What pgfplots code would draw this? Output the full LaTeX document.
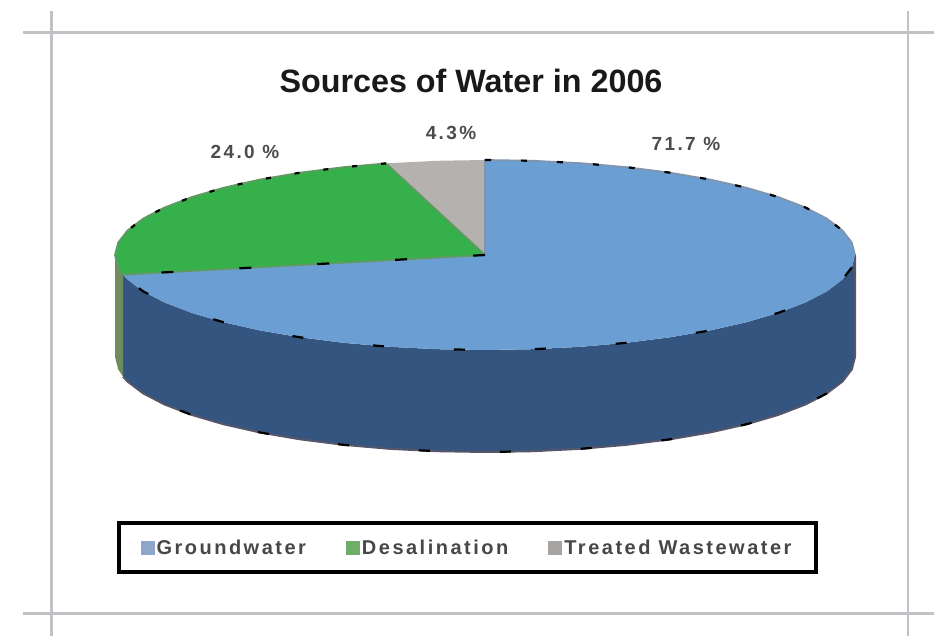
\documentclass[border=0pt]{standalone}
\usepackage{pgfplots}
\pgfplotsset{compat=1.18}
\usepackage{fontspec}
\setmainfont{Liberation Sans}
\newfontfamily\legendfont[LetterSpace=12.5]{Liberation Sans Bold}
\definecolor{slicetop}{HTML}{6B9FD4}
\definecolor{slicewall}{HTML}{34557F}
\definecolor{greentop}{HTML}{35B04A}
\definecolor{greenwall}{HTML}{6F8C5E}
\definecolor{graytop}{HTML}{B4B1AF}
\definecolor{cropmark}{HTML}{C2C2C6}
\definecolor{rimblue}{HTML}{8094AE}
\definecolor{rimgreen}{HTML}{5F9A62}
\definecolor{rimwall}{HTML}{55566A}
\definecolor{swatchblue}{HTML}{8EA6C9}
\definecolor{swatchgreen}{HTML}{6FAE6A}
\definecolor{swatchgray}{HTML}{A8A4A2}
\begin{document}
\begin{tikzpicture}
\begin{axis}[
  scale only axis, width=934pt, height=636pt,
  xmin=0, xmax=934, ymin=0, ymax=636, y dir=reverse,
  hide axis, clip=true,
  legend columns=3,
  legend cell align=left,
  legend style={at={(axis cs:467,547.5)}, anchor=center, draw=black, line width=4pt,
    fill=white, inner xsep=22pt, inner ysep=15pt,
    font=\fontsize{20}{22}\legendfont\color{black!72},
    /tikz/every even column/.append style={column sep=38pt}},
  legend image code/.code={\fill[#1, draw=none] (0pt,-7pt) rectangle (14pt,7pt);},
]
% crop marks around the page
\addplot[forget plot, cropmark, line width=2.6pt] coordinates {(23,32.5) (934,32.5)};
\addplot[forget plot, cropmark, line width=2.6pt] coordinates {(23,613.5) (934,613.5)};
\addplot[forget plot, cropmark, line width=2.6pt] coordinates {(51.5,11) (51.5,636)};
\addplot[forget plot, cropmark, line width=2.6pt] coordinates {(908,11) (908,636)};

% side wall of the disc
\addplot[forget plot, fill=slicewall, draw=none] coordinates {
 (855,255) (851.8,267.4) (842.4,279.6) (826.8,291.4) (805.4,302.5) (778.6,312.8) (746.6,322.2) (710.3,330.4) (670,337.3) (626.6,342.8) (580.8,346.8) (533.3,349.2) (485,350)
 (436.7,349.2) (389.2,346.8) (343.4,342.8) (300,337.3) (259.7,330.4) (223.4,322.2) (191.4,312.8) (164.6,302.5) (143.2,291.4) (127.6,279.6) (123,274.6)
 (123,376.6) (127.6,381.6) (143.2,393.4) (164.6,404.5) (191.4,414.8) (223.4,424.2) (259.7,432.4) (300,439.3) (343.4,444.8) (389.2,448.8) (436.7,451.2) (485,452)
 (533.3,451.2) (580.8,448.8) (626.6,444.8) (670,439.3) (710.3,432.4) (746.6,424.2) (778.6,414.8) (805.4,404.5) (826.8,393.4) (842.4,381.6) (851.8,369.4) (855,357)
} -- cycle;
\addplot[forget plot, fill=greenwall, draw=none] coordinates {
 (123,274.6) (118.2,267.4) (115,255) (115,357) (118.2,369.4) (123,376.6)
} -- cycle;
% rim of the wall
\addplot[forget plot, rimwall, line width=2pt] coordinates {
 (855,255) (855,357) (851.8,369.4) (842.4,381.6) (826.8,393.4) (805.4,404.5) (778.6,414.8) (746.6,424.2) (710.3,432.4) (670,439.3) (626.6,444.8) (580.8,448.8) (533.3,451.2) (485,452)
 (436.7,451.2) (389.2,448.8) (343.4,444.8) (300,439.3) (259.7,432.4) (223.4,424.2) (191.4,414.8) (164.6,404.5) (143.2,393.4) (127.6,381.6) (123,376.6)
};

% top faces of the three slices
\addplot[forget plot, fill=slicetop, draw=none] coordinates {
 (485,255) (485,160) (533.3,160.8) (580.8,163.2) (626.6,167.2) (670,172.7) (710.3,179.6) (746.6,187.8) (778.6,197.2) (805.4,207.5) (826.8,218.6) (842.4,230.4) (851.8,242.6) (855,255)
 (851.8,267.4) (842.4,279.6) (826.8,291.4) (805.4,302.5) (778.6,312.8) (746.6,322.2) (710.3,330.4) (670,337.3) (626.6,342.8) (580.8,346.8) (533.3,349.2) (485,350)
 (436.7,349.2) (389.2,346.8) (343.4,342.8) (300,337.3) (259.7,330.4) (223.4,322.2) (191.4,312.8) (164.6,302.5) (143.2,291.4) (127.6,279.6) (123,274.6)
} -- cycle;
\addplot[forget plot, fill=greentop, draw=none] coordinates {
 (485,255) (123,274.6) (118.2,267.4) (115,255) (118.2,242.6) (127.6,230.4) (143.2,218.6) (164.6,207.5) (191.4,197.2) (223.4,187.8) (259.7,179.6) (300,172.7) (343.4,167.2) (386,163.4)
} -- cycle;
\addplot[forget plot, fill=graytop, draw=none] coordinates {
 (485,255) (386,163.4) (389.2,163.2) (436.7,160.8) (485,160)
} -- cycle;

% thin rim of the top face
\addplot[forget plot, rimblue, line width=1.8pt] coordinates {
 (485,255) (485,160) (533.3,160.8) (580.8,163.2) (626.6,167.2) (670,172.7) (710.3,179.6) (746.6,187.8) (778.6,197.2) (805.4,207.5) (826.8,218.6) (842.4,230.4) (851.8,242.6) (855,255)
};
\addplot[forget plot, rimgreen, line width=1.8pt] coordinates {
 (485,255) (386,163.4) (343.4,167.2) (300,172.7) (259.7,179.6) (223.4,187.8) (191.4,197.2) (164.6,207.5) (143.2,218.6) (127.6,230.4) (118.2,242.6) (115,255) (118.2,267.4) (123,274.6) (485,255)
};
% sparse dashes of the slice outlines
\addplot[forget plot, black, line width=2.2pt, dash pattern=on 6pt off 30pt] coordinates {
 (485,160) (533.3,160.8) (580.8,163.2) (626.6,167.2) (670,172.7) (710.3,179.6) (746.6,187.8) (778.6,197.2) (805.4,207.5) (826.8,218.6) (842.4,230.4) (851.8,242.6)
};
\addplot[forget plot, black, line width=2.2pt, dash pattern=on 5pt off 24pt] coordinates {
 (386,163.4) (343.4,167.2) (300,172.7) (259.7,179.6) (223.4,187.8) (191.4,197.2) (164.6,207.5) (143.2,218.6) (127.6,230.4)
};
\addplot[forget plot, black, line width=2.2pt, dash pattern=on 12pt off 66pt] coordinates {
 (485,255) (123,274.6)
};
\addplot[forget plot, black, line width=2.2pt, dash pattern=on 11pt off 70pt] coordinates {
 (851.8,267.4) (842.4,279.6) (826.8,291.4) (805.4,302.5) (778.6,312.8) (746.6,322.2) (710.3,330.4) (670,337.3) (626.6,342.8) (580.8,346.8) (533.3,349.2) (485,350)
 (436.7,349.2) (389.2,346.8) (343.4,342.8) (300,337.3) (259.7,330.4) (223.4,322.2) (191.4,312.8) (164.6,302.5) (143.2,291.4) (127.6,279.6)
};
\addplot[forget plot, black, line width=2.2pt, dash pattern=on 11pt off 70pt] coordinates {
 (826.8,393.4) (805.4,404.5) (778.6,414.8) (746.6,424.2) (710.3,432.4) (670,439.3) (626.6,444.8) (580.8,448.8) (533.3,451.2) (485,452)
 (436.7,451.2) (389.2,448.8) (343.4,444.8) (300,439.3) (259.7,432.4) (223.4,424.2) (191.4,414.8) (164.6,404.5) (143.2,393.4)
};

% legend with its paler swatches
\addlegendimage{fill=swatchblue}
\addlegendentry{Groundwater}
\addlegendimage{fill=swatchgreen}
\addlegendentry{Desalination}
\addlegendimage{fill=swatchgray}
\addlegendentry{Treated Wastewater}

\node[font=\bfseries\fontsize{32.3}{36}\selectfont, text=black!90] at (axis cs:471,81) {Sources of Water in 2006};
\node[font=\fontsize{19}{21}\legendfont, text=black!70] at (axis cs:245,152) {24.0 \%};
\node[font=\fontsize{19}{21}\legendfont, text=black!70] at (axis cs:451,133) {4.3\%};
\node[font=\fontsize{19}{21}\legendfont, text=black!70] at (axis cs:686,144) {71.7 \%};
\end{axis}
% the page is exactly the plot area
\useasboundingbox (current axis.south west) rectangle (current axis.north east);
\end{tikzpicture}
\end{document}
